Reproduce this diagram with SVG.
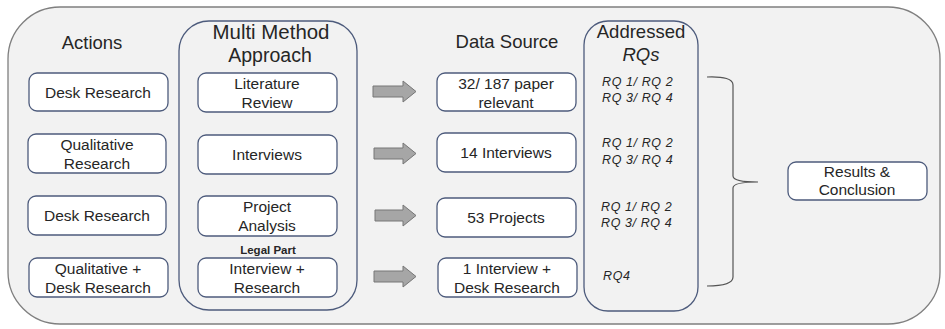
<svg xmlns="http://www.w3.org/2000/svg" width="945" height="329" viewBox="0 0 945 329">
<defs>
<style>
.outer{fill:#f2f2f2;stroke:#7f7f7f;stroke-width:1.3}
.cont{fill:#f2f2f2;stroke:#4d5b7c;stroke-width:1.3}
.box{fill:#ffffff;stroke:#4d5b7c;stroke-width:1.3}
.t{font-family:"Liberation Sans",Arial,sans-serif;font-size:15.5px;fill:#262626;text-anchor:middle}
.h{font-family:"Liberation Sans",Arial,sans-serif;font-size:18.5px;fill:#262626;text-anchor:middle}
.rq{font-family:"Liberation Sans",Arial,sans-serif;font-size:12.5px;font-style:italic;fill:#262626;letter-spacing:0.6px}
.sm{font-family:"Liberation Sans",Arial,sans-serif;font-size:11.5px;font-weight:bold;fill:#262626;text-anchor:middle}
.arr{fill:#a6a6a6;stroke:#767676;stroke-width:1}
.br{fill:none;stroke:#555;stroke-width:1.2}
</style>
</defs>
<rect class="outer" x="8" y="7" width="932" height="317" rx="52" ry="52"/>

<g id="actions">
<text class="h" x="92" y="49">Actions</text>
<g id="a1"><rect class="box" x="29" y="73" width="139" height="38" rx="8"/><text class="t" x="98" y="98">Desk Research</text></g>
<g id="a2"><rect class="box" x="28" y="134" width="138" height="39" rx="8"/><text class="t" x="97" y="150">Qualitative</text><text class="t" x="97" y="168.5">Research</text></g>
<g id="a3"><rect class="box" x="28" y="196" width="138" height="39" rx="8"/><text class="t" x="97" y="221">Desk Research</text></g>
<g id="a4"><rect class="box" x="29" y="258" width="139" height="39" rx="8"/><text class="t" x="98" y="274">Qualitative +</text><text class="t" x="98" y="292.5">Desk Research</text></g>
</g>

<g id="methods">
<rect class="cont" x="179" y="21" width="178" height="289" rx="30"/>
<text class="h" x="271" y="39" style="font-size:19.5px" textLength="117" lengthAdjust="spacingAndGlyphs">Multi Method</text>
<text class="h" x="270" y="62" style="font-size:19.5px">Approach</text>
<g id="m1"><rect class="box" x="198" y="73" width="139" height="39" rx="8"/><text class="t" x="267" y="89">Literature</text><text class="t" x="267" y="107.5">Review</text></g>
<g id="m2"><rect class="box" x="198" y="135" width="139" height="39" rx="8"/><text class="t" x="267" y="160">Interviews</text></g>
<g id="m3"><rect class="box" x="198" y="196" width="139" height="40" rx="8"/><text class="t" x="267" y="212">Project</text><text class="t" x="267" y="230.5">Analysis</text></g>
<text class="sm" x="268" y="254">Legal Part</text>
<g id="m4"><rect class="box" x="198" y="258" width="139" height="39" rx="8"/><text class="t" x="267" y="274">Interview +</text><text class="t" x="267" y="292.5">Research</text></g>
</g>

<g id="connectors">
<path class="arr" d="M373,86 H403 V81 L416,91.5 L403,102 V97 H373 Z"/>
<path class="arr" d="M374,148 H403 V143 L416,153.5 L403,164 V159 H374 Z"/>
<path class="arr" d="M375,210 H403 V205 L416,215.5 L403,226 V221 H375 Z"/>
<path class="arr" d="M374,271 H403 V266 L416,276.5 L403,287 V282 H374 Z"/>
<path class="br" d="M707,77 Q733,76 733,85 V176 Q733,182 758,182 Q733,182 733,188 V277 Q733,286 707,286"/>
</g>

<g id="datasource">
<text class="h" x="507" y="48">Data Source</text>
<g id="d1"><rect class="box" x="437" y="73" width="139" height="38" rx="8"/><text class="t" x="506" y="89">32/ 187 paper</text><text class="t" x="506" y="107.5">relevant</text></g>
<g id="d2"><rect class="box" x="437" y="133" width="139" height="39" rx="8"/><text class="t" x="506" y="158">14 Interviews</text></g>
<g id="d3"><rect class="box" x="437" y="198" width="139" height="39" rx="8"/><text class="t" x="506" y="223">53 Projects</text></g>
<g id="d4"><rect class="box" x="438" y="258" width="139" height="39" rx="8"/><text class="t" x="507" y="274">1 Interview +</text><text class="t" x="507" y="292.5">Desk Research</text></g>
</g>

<g id="rqs">
<rect class="cont" x="584" y="21" width="114" height="290" rx="24"/>
<text class="h" x="641" y="38">Addressed</text>
<text class="h" x="641" y="61" font-style="italic">RQs</text>
<text class="rq" x="602" y="86">RQ 1/ RQ 2</text>
<text class="rq" x="602" y="102">RQ 3/ RQ 4</text>
<text class="rq" x="602" y="147">RQ 1/ RQ 2</text>
<text class="rq" x="602" y="164">RQ 3/ RQ 4</text>
<text class="rq" x="601" y="211">RQ 1/ RQ 2</text>
<text class="rq" x="601" y="227">RQ 3/ RQ 4</text>
<text class="rq" x="603" y="280">RQ4</text>
</g>

<g id="results"><rect class="box" x="788" y="162" width="139" height="38" rx="8"/><text class="t" x="857" y="177">Results &amp;</text><text class="t" x="857" y="194.5">Conclusion</text></g>
</svg>
